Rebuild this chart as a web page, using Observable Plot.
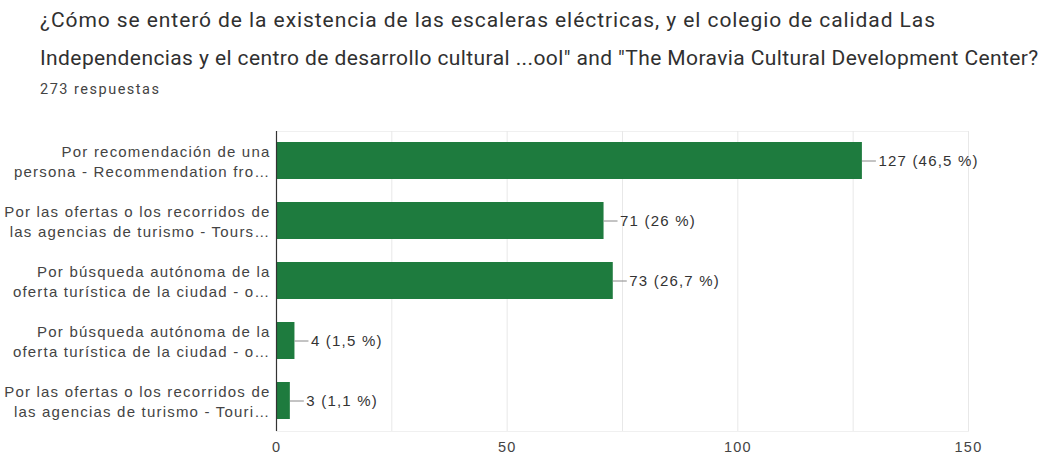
<!DOCTYPE html>
<html>
<head>
<meta charset="utf-8">
<script src="https://cdn.jsdelivr.net/npm/d3@7"></script>
<script src="https://cdn.jsdelivr.net/npm/@observablehq/plot@0.6"></script>
<style>
  body { margin: 0; background: #fff; width: 1047px; height: 457px; overflow: hidden; }
  #title { position: absolute; left: 40px; top: 1px; font-family: Roboto, "Liberation Sans", sans-serif; font-size: 21px; line-height: 38px; color: #303030; white-space: nowrap; }
  #title .l1 { letter-spacing: 0.93px; }
  #title .l2 { letter-spacing: 0.4px; }
  #sub { position: absolute; left: 40px; top: 80px; font-family: Roboto, "Liberation Sans", sans-serif; font-size: 14.5px; letter-spacing: 1.5px; line-height: 20px; color: #444; }
  #chart { position: absolute; left: 0; top: 110px; }
  #chart text { letter-spacing: 1.2px; }
</style>
</head>
<body>
<div id="title"><span class="l1">¿Cómo se enteró de la existencia de las escaleras eléctricas, y el colegio de calidad Las</span><br><span class="l2">Independencias y el centro de desarrollo cultural ...ool" and "The Moravia Cultural Development Center?</span></div>
<div id="sub">273 respuestas</div>
<div id="chart"></div>
<script>
const keys = ["r1", "r2", "r3", "r4", "r5"];
const labels = [
  "Por recomendación de una\npersona - Recommendation fro…",
  "Por las ofertas o los recorridos de\nlas agencias de turismo - Tours…",
  "Por búsqueda autónoma de la\noferta turística de la ciudad - o…",
  "Por búsqueda autónoma de la\noferta turística de la ciudad - o…",
  "Por las ofertas o los recorridos de\nlas agencias de turismo - Touri…"
];
const counts = [127, 71, 73, 4, 3];
const percents = ["46,5 %", "26 %", "26,7 %", "1,5 %", "1,1 %"];
const xTicks = [0, 50, 100, 150];
const gridTicks = [25, 50, 75, 100, 125, 150];

const data = keys.map((k, i) => ({key: k, label: labels[i], value: counts[i], text: `${counts[i]} (${percents[i]})`}));

const leader = (index, scales, values, dims, ctx, next) => {
  const g = next(index, scales, values, dims, ctx);
  d3.select(g).selectAll("line").attr("x2", function() { return +this.getAttribute("x1") + 14; });
  return g;
};

const chart = Plot.plot({
  width: 1047,
  height: 347,
  marginLeft: 276,
  marginRight: 79,
  marginTop: 21,
  marginBottom: 26,
  style: {fontFamily: "'Liberation Sans', Arial, sans-serif", fontSize: "14.5px", color: "#444"},
  x: {domain: [0, 150], ticks: xTicks, tickSize: 0, tickPadding: 10, label: null},
  y: {domain: keys, paddingInner: 0.38, paddingOuter: 0.19, axis: null},
  marks: [
    Plot.frame({stroke: "#f0f0f0"}),
    Plot.gridX(gridTicks, {stroke: "#e8e8e8", strokeOpacity: 1}),
    Plot.barX(data, {y: "key", x: "value", fill: "#1e7b3e"}),
    Plot.ruleX([0], {stroke: "#333", strokeWidth: 1.2}),
    Plot.ruleY(data, {y: "key", x1: "value", x2: "value", stroke: "#888", render: leader}),
    Plot.text(data, {y: "key", x: "value", text: "text", textAnchor: "start", dx: 16, fill: "#333", fontSize: 15}),
    Plot.text(data, {y: "key", x: () => 0, text: "label", textAnchor: "end", dx: -6, lineHeight: 1.33, fill: "#444", fontSize: 15})
  ]
});
document.getElementById("chart").appendChild(chart);
</script>
</body>
</html>
